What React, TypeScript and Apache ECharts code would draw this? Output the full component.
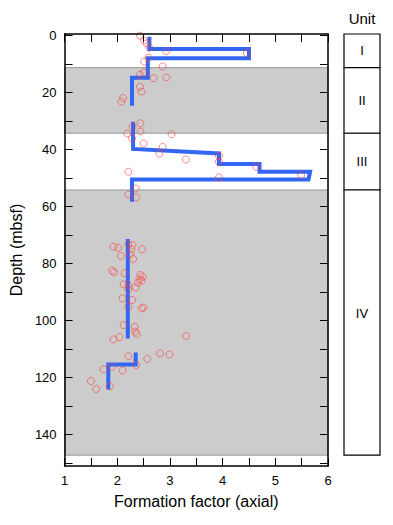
import React, { useEffect, useRef } from "react";
import * as echarts from "echarts";

// Measured points: [formation factor, depth (mbsf)]
const points: number[][] = [
  [2.43, 0.1], [2.51, 1.8], [2.56, 2.8], [2.61, 4.3], [2.93, 5.5], [4.46, 6.2],
  [2.59, 7.8], [2.51, 9.2], [2.86, 10.9], [2.51, 13.0], [2.43, 13.8], [2.69, 15.0],
  [2.93, 14.7], [2.43, 18.0], [2.46, 19.7], [2.11, 21.9], [2.08, 23.2],
  [2.44, 30.8], [2.29, 32.0], [2.19, 34.4], [2.44, 33.7], [2.28, 36.1], [3.03, 34.7],
  [2.5, 37.9], [2.86, 39.1], [2.8, 41.4], [3.3, 43.5], [3.93, 42.2], [3.93, 44.3],
  [4.64, 46.1], [5.49, 49.0], [2.21, 47.8], [3.93, 49.8], [2.35, 53.7], [2.21, 55.8],
  [2.36, 56.8],
  [1.93, 74.1], [2.02, 74.5], [2.21, 73.2], [2.29, 73.5], [2.27, 75.0], [2.47, 75.0],
  [2.07, 77.3], [2.25, 76.7], [2.3, 78.4], [1.9, 82.5], [1.94, 83.1], [2.14, 83.4],
  [2.44, 84.0], [2.48, 84.6], [2.42, 85.5], [2.46, 86.0], [2.39, 86.7], [2.12, 87.3],
  [2.21, 87.5], [2.21, 89.1], [2.35, 88.4], [2.1, 92.2], [2.28, 92.8], [2.21, 95.2],
  [2.46, 95.7], [2.5, 95.4], [2.12, 101.6], [2.33, 102.2], [2.34, 103.9], [2.37, 104.7],
  [3.31, 105.4], [2.04, 105.8], [1.93, 106.6],
  [2.21, 112.5], [2.81, 111.5], [2.99, 111.9], [2.57, 113.4], [2.36, 115.6],
  [1.74, 117.1], [1.9, 116.2], [2.1, 117.5], [1.5, 121.2], [1.6, 124.0], [1.86, 123.0],
];

// Blocky average profile, one list of vertices per segment
const profileSegments: number[][][] = [
  [[2.61, 0.5], [2.61, 4.8], [4.5, 4.8], [4.5, 8.0], [2.58, 8.0], [2.58, 14.8], [2.28, 14.8], [2.28, 24.7]],
  [[2.3, 30.3], [2.3, 39.8], [3.93, 41.4], [3.93, 45.1], [4.7, 45.1], [4.7, 47.8], [5.66, 47.8], [5.63, 50.5], [2.28, 50.5], [2.28, 58.3]],
  [[2.2, 71.4], [2.2, 106.3]],
  [[2.35, 111.2], [2.35, 115.4], [1.83, 115.4], [1.83, 124.2]],
];

// Lithologic units
const unitNames = ["I", "II", "III", "IV"];
const unitTops = [-0.5, 11.3, 34.3, 54.2];
const unitBottoms = [11.3, 34.3, 54.2, 147.2];
const shadedUnits = [1, 3];

const xTickLabels = [1, 2, 3, 4, 5, 6];
const yTickValues = [0, 10, 20, 30, 40, 50, 60, 70, 80, 90, 100, 110, 120, 130, 140, 150];
const yLabelValues = [0, 20, 40, 60, 80, 100, 120, 140];

const FONT = "'Liberation Sans', Arial, Helvetica, sans-serif";
const Y_MIN = -0.5;
const Y_MAX = 151;

export default function App() {
  const ref = useRef<HTMLDivElement>(null);
  useEffect(() => {
    if (!ref.current) return;
    const chart = echarts.init(ref.current, undefined, { renderer: "svg" });
    const axisLine = { show: true, onZero: false, lineStyle: { color: "#000", width: 1.5 } };
    const tick = { show: true, inside: true, length: 8, lineStyle: { color: "#000", width: 1 } };
    const xBase = {
      type: "value" as const,
      gridIndex: 0,
      min: 1,
      max: 6,
      interval: 0.5,
      z: 10,
      axisLine,
      axisTick: tick,
      splitLine: { show: false },
    };
    const yBase = {
      type: "value" as const,
      gridIndex: 0,
      inverse: true,
      min: Y_MIN,
      max: Y_MAX,
      z: 10,
      axisLine,
      axisTick: { ...tick, customValues: yTickValues },
      splitLine: { show: false },
    };
    const option: any = {
      animation: false,
      textStyle: { fontFamily: FONT },
      grid: [
        { left: 60, right: 65, top: 34, bottom: 59 },
        { left: 344, width: 36, top: 34, bottom: 59 },
      ],
      xAxis: [
        {
          ...xBase,
          position: "bottom",
          axisLabel: {
            show: true,
            color: "#000",
            fontSize: 13,
            fontFamily: FONT,
            margin: 8,
            formatter: (v: number) => (xTickLabels.includes(v) ? String(v) : ""),
          },
          name: "Formation factor (axial)",
          nameLocation: "middle",
          nameGap: 27,
          nameTextStyle: { color: "#000", fontSize: 16, fontFamily: FONT },
        },
        { ...xBase, position: "top", axisLabel: { show: false } },
        { type: "value", gridIndex: 1, min: 0, max: 1, show: false },
      ],
      yAxis: [
        {
          ...yBase,
          position: "left",
          axisLabel: {
            show: true,
            color: "#000",
            fontSize: 13,
            fontFamily: FONT,
            margin: 8,
            customValues: yLabelValues,
          },
          name: "Depth (mbsf)",
          nameLocation: "middle",
          nameGap: 31,
          nameTextStyle: { color: "#000", fontSize: 16, fontFamily: FONT },
        },
        { ...yBase, position: "right", axisLabel: { show: false } },
        { type: "value", gridIndex: 1, inverse: true, min: Y_MIN, max: Y_MAX, show: false },
      ],
      graphic: [
        {
          type: "text",
          x: 362,
          y: 18,
          style: { text: "Unit", fill: "#000", font: `15px ${FONT}`, textAlign: "center", textVerticalAlign: "middle" },
        },
      ],
      series: [
        {
          type: "scatter",
          xAxisIndex: 0,
          yAxisIndex: 0,
          data: [],
          z: 1,
          silent: true,
          markArea: {
            silent: true,
            itemStyle: { color: "#cccccc", borderColor: "#9a9a9a", borderWidth: 1 },
            data: shadedUnits.map((i) => [{ yAxis: unitTops[i] }, { yAxis: unitBottoms[i] }]),
          },
        },
        ...profileSegments.map((seg) => ({
          type: "line",
          xAxisIndex: 0,
          yAxisIndex: 0,
          data: seg,
          showSymbol: false,
          z: 3,
          lineStyle: { color: "#3366f2", width: 4, join: "miter", cap: "butt" },
        })),
        {
          type: "scatter",
          xAxisIndex: 0,
          yAxisIndex: 0,
          data: points,
          symbol: "circle",
          symbolSize: 7,
          z: 5,
          itemStyle: { color: "rgba(0,0,0,0)", borderColor: "rgba(255,60,60,0.75)", borderWidth: 1 },
        },
        {
          type: "scatter",
          xAxisIndex: 2,
          yAxisIndex: 2,
          data: [],
          silent: true,
          markArea: {
            silent: true,
            itemStyle: { color: "#ffffff", borderColor: "#000", borderWidth: 1.2 },
            label: { show: true, position: "inside", color: "#000", fontSize: 13, fontFamily: FONT },
            data: unitNames.map((n, i) => [
              {
                yAxis: unitTops[i],
                name: n,
                label: i === 3 ? { offset: [0, -9] } : undefined,
              },
              { yAxis: unitBottoms[i] },
            ]),
          },
        },
      ],
    };
    chart.setOption(option);
    return () => chart.dispose();
  }, []);
  return (
    <div
      ref={ref}
      style={{ position: "absolute", left: 0, top: 0, width: 393, height: 525 }}
    />
  );
}
